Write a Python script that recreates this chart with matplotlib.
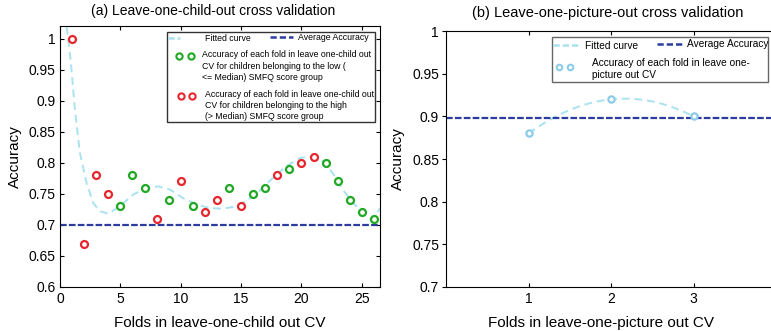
import matplotlib
matplotlib.use('Agg')
import matplotlib.pyplot as plt
from matplotlib.patches import Rectangle
import numpy as np

plt.rcParams['font.family'] = ['Liberation Sans', 'DejaVu Sans']

# left panel: leave-one-child-out
folds_a = np.arange(1, 27)
acc_a = [1.00, 0.67, 0.78, 0.75, 0.73, 0.78, 0.76, 0.71, 0.74, 0.77, 0.73, 0.72, 0.74,
         0.76, 0.73, 0.75, 0.76, 0.78, 0.79, 0.80, 0.81, 0.80, 0.77, 0.74, 0.72, 0.71]
group_a = ['h', 'h', 'h', 'h', 'l', 'l', 'l', 'h', 'l', 'h', 'l', 'h', 'h',
           'l', 'h', 'l', 'l', 'h', 'l', 'h', 'h', 'l', 'l', 'l', 'l', 'l']
avg_a = 0.70

# fitted curve
fit_x = [0.55, 0.88, 1.24, 1.65, 2.21, 2.76, 3.31, 4.0, 4.96, 6.07, 7.17, 8.13, 9.1,
         10.2, 11.3, 12.4, 13.5, 14.6, 15.4, 16.5, 17.6, 18.7, 19.9, 21.0, 21.8,
         22.6, 23.4, 24.3, 25.1, 25.9, 26.5]
fit_y = [1.019, 0.966, 0.885, 0.816, 0.767, 0.735, 0.722, 0.718, 0.730, 0.749, 0.759,
         0.762, 0.757, 0.743, 0.733, 0.727, 0.726, 0.730, 0.738, 0.754, 0.775, 0.794,
         0.808, 0.810, 0.802, 0.783, 0.757, 0.735, 0.719, 0.708, 0.727]

# right panel: leave-one-picture-out
folds_b = [1, 2, 3]
acc_b = [0.88, 0.92, 0.90]
avg_b = 0.898

red = '#e5262e'
green = '#1fa824'
cyan = '#a9e3ef'
navy = '#2b3c9e'
lblue = '#8ccbe9'

fig = plt.figure(figsize=(7.71, 3.31), dpi=100)
ax1 = fig.add_axes([0.0778, 0.133, 0.415, 0.788])
ax2 = fig.add_axes([0.5785, 0.133, 0.428, 0.773])

# ---- (a)
acc_arr = np.array(acc_a)
grp = np.array(group_a)
ax1.plot(fit_x, fit_y, '--', color=cyan, lw=1.4, dashes=(4, 2.5))
ax1.axhline(avg_a, color=navy, lw=1.6, ls='--', dashes=(3, 1))
for g, c in [('l', green), ('h', red)]:
    m = grp == g
    ax1.plot(folds_a[m], acc_arr[m], 'o', ms=5, mfc='white', mec=c, mew=1.6, ls='none')

ax1.set_xlim(0, 26.5)
ax1.set_ylim(0.6, 1.02)
ax1.set_xticks([0, 5, 10, 15, 20, 25])
ax1.set_yticks(np.arange(0.6, 1.01, 0.05))
ax1.set_yticklabels(['0.6', '0.65', '0.7', '0.75', '0.8', '0.85', '0.9', '0.95', '1'])
ax1.tick_params(direction='in', top=True, right=True, length=3, labelsize=10)
ax1.tick_params(axis='y', pad=3)
ax1.set_title('(a) Leave-one-child-out cross validation', fontsize=10, pad=8, x=0.48)
ax1.set_xlabel('Folds in leave-one-child out CV', fontsize=11, labelpad=7)
ax1.set_ylabel('Accuracy', fontsize=11, labelpad=5)

# manual legend (a)
LF = dict(fontsize=6.3, zorder=6)
T = ax1.transAxes
ax1.add_patch(Rectangle((0.334, 0.632), 0.65, 0.345, transform=T, fill=True,
                        fc='white', ec='#333333', lw=1, zorder=5))
ax1.plot([0.337, 0.375], [0.954, 0.954], transform=T, color=cyan, lw=1.8,
         dashes=(2.5, 1.2), zorder=6)
ax1.text(0.453, 0.952, 'Fitted curve', transform=T, va='center', **LF)
ax1.plot([0.656, 0.728], [0.958, 0.958], transform=T, color=navy, lw=1.8,
         dashes=(2.5, 1.2), zorder=6)
ax1.text(0.744, 0.958, 'Average Accuracy', transform=T, va='center', **LF)
ax1.plot([0.372, 0.409], [0.885, 0.885], 'o', transform=T, ms=4.5, mfc='white',
         mec=green, mew=1.5, zorder=6)
ax1.text(0.444, 0.847,
         'Accuracy of each fold in leave one-child out\nCV for children belonging to the low (\n<= Median) SMFQ score group',
         transform=T, va='center', linespacing=1.3, **LF)
ax1.plot([0.378, 0.413], [0.732, 0.732], 'o', transform=T, ms=4.5, mfc='white',
         mec=red, mew=1.5, zorder=6)
ax1.text(0.453, 0.695,
         'Accuracy of each fold in leave one-child out\nCV for children belonging to the high\n(> Median) SMFQ score group',
         transform=T, va='center', linespacing=1.3, **LF)

# ---- (b)
fit_b = np.polynomial.Polynomial.fit(folds_b, acc_b, 2)
xb = np.linspace(1, 3, 100)
ax2.plot(xb, fit_b(xb), '--', color=cyan, lw=1.4, dashes=(4, 2.5))
ax2.axhline(avg_b, color=navy, lw=1.6, ls='--', dashes=(3, 1))
ax2.plot(folds_b, acc_b, 'o', ms=4.5, mfc='white', mec=lblue, mew=1.6, ls='none')
ax2.set_xlim(0, 4)
ax2.set_ylim(0.7, 1.0)
ax2.set_xticks([1, 2, 3])
ax2.set_yticks(np.arange(0.7, 1.01, 0.05))
ax2.set_yticklabels(['0.7', '0.75', '0.8', '0.85', '0.9', '0.95', '1'])
ax2.tick_params(axis='x', direction='in', top=True, length=3, labelsize=10)
ax2.tick_params(axis='y', direction='out', length=3, labelsize=10, pad=2)
ax2.set_title('(b) Leave-one-picture-out cross validation', fontsize=10.5, pad=10, x=0.49)
ax2.set_xlabel('Folds in leave-one-picture out CV', fontsize=11, labelpad=7, x=0.47)
ax2.set_ylabel('Accuracy', fontsize=11, labelpad=5)

LF2 = dict(fontsize=7.3, zorder=6)
T2 = ax2.transAxes
ax2.add_patch(Rectangle((0.321, 0.801), 0.655, 0.176, transform=T2, fill=True,
                        fc='white', ec='#666666', lw=1, zorder=5))
ax2.plot([0.324, 0.406], [0.945, 0.945], transform=T2, color=cyan, lw=1.8,
         dashes=(2.5, 1.2), zorder=6)
ax2.text(0.421, 0.942, 'Fitted curve', transform=T2, va='center', **LF2)
ax2.plot([0.639, 0.715], [0.95, 0.95], transform=T2, color=navy, lw=1.8,
         dashes=(2.5, 1.2), zorder=6)
ax2.text(0.730, 0.95, 'Average Accuracy', transform=T2, va='center', **LF2)
ax2.plot([0.342, 0.376], [0.859, 0.859], 'o', transform=T2, ms=4, mfc='white',
         mec=lblue, mew=1.5, zorder=6)
ax2.text(0.442, 0.852, 'Accuracy of each fold in leave one-\npicture out CV', transform=T2,
         va='center', linespacing=1.2, **LF2)

fig.savefig('out.png', dpi=100)
